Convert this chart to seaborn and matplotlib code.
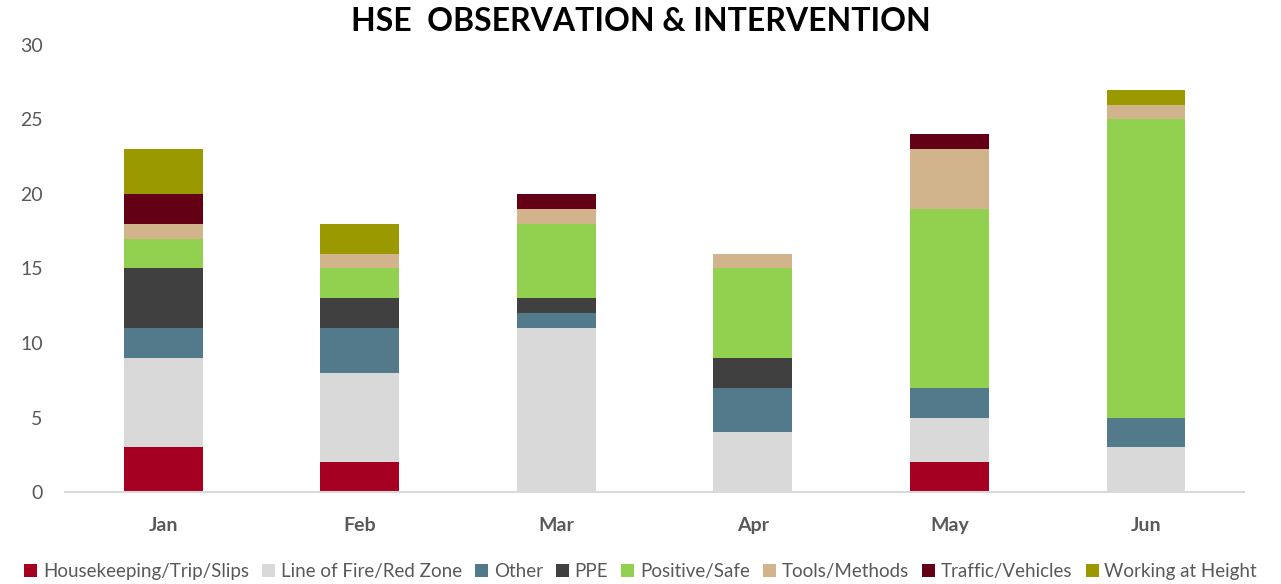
import numpy as np
import matplotlib
matplotlib.use("Agg")
import matplotlib.pyplot as plt
import seaborn as sns
from matplotlib.patches import Patch

months = ["Jan", "Feb", "Mar", "Apr", "May", "Jun"]
housekeeping = [3, 2, 0, 0, 2, 0]
line_of_fire = [6, 6, 11, 4, 3, 3]
other = [2, 3, 1, 3, 2, 2]
ppe = [4, 2, 1, 2, 0, 0]
positive = [2, 2, 5, 6, 12, 20]
tools = [1, 1, 1, 1, 4, 1]
traffic = [2, 0, 1, 0, 1, 0]
height = [3, 2, 0, 0, 0, 1]

series_names = ["Housekeeping/Trip/Slips", "Line of Fire/Red Zone", "Other", "PPE",
                "Positive/Safe", "Tools/Methods", "Traffic/Vehicles", "Working at Height"]
series_vals = [housekeeping, line_of_fire, other, ppe, positive, tools, traffic, height]
colors = ["#A50021", "#D9D9D9", "#537A8B", "#404040", "#92D050", "#D2B48C", "#640015", "#9A9A00"]

sns.set_theme(style="white")
plt.rcParams['font.family'] = ['Lato', 'DejaVu Sans']

fig = plt.figure(figsize=(12.81, 5.84), dpi=100)
ax = fig.add_axes([0.0507, 0.1575, 0.9205, 0.7655])

bottom = np.zeros(len(months))
for name, vals, c in zip(series_names, series_vals, colors):
    vals = np.array(vals, dtype=float)
    sns.barplot(x=months, y=vals, order=months, bottom=bottom, color=c, width=0.4,
                ax=ax, edgecolor="none", linewidth=0, saturation=1)
    bottom += vals

ax.set_ylim(0, 30)
ax.set_xlim(-0.5, 5.5)
ax.set_yticks([0, 5, 10, 15, 20, 25, 30])
ax.tick_params(axis='y', labelsize=14, labelcolor="#595959", length=0, pad=16)
ax.tick_params(axis='x', labelsize=14, labelcolor="#595959", length=0, pad=18)
for lab in ax.get_xticklabels():
    lab.set_fontweight("bold")
for s in ["top", "right", "left"]:
    ax.spines[s].set_visible(False)
ax.spines["bottom"].set_color("#D9D9D9")
ax.spines["bottom"].set_linewidth(1.5)
ax.set_xlabel("")
ax.set_ylabel("")

fig.text(0.5, 0.963, "HSE  OBSERVATION & INTERVENTION", ha="center", va="center",
         fontsize=23, fontweight="bold", color="black")

handles = [Patch(facecolor=c, edgecolor="none") for c in colors]
fig.legend(handles, series_names, loc="center", bbox_to_anchor=(0.5, 0.022), ncol=8,
           frameon=False, fontsize=13.5, handlelength=0.7, handleheight=0.7,
           handletextpad=0.3, columnspacing=0.7, labelcolor="#595959")

fig.savefig("out.png", dpi=100)
